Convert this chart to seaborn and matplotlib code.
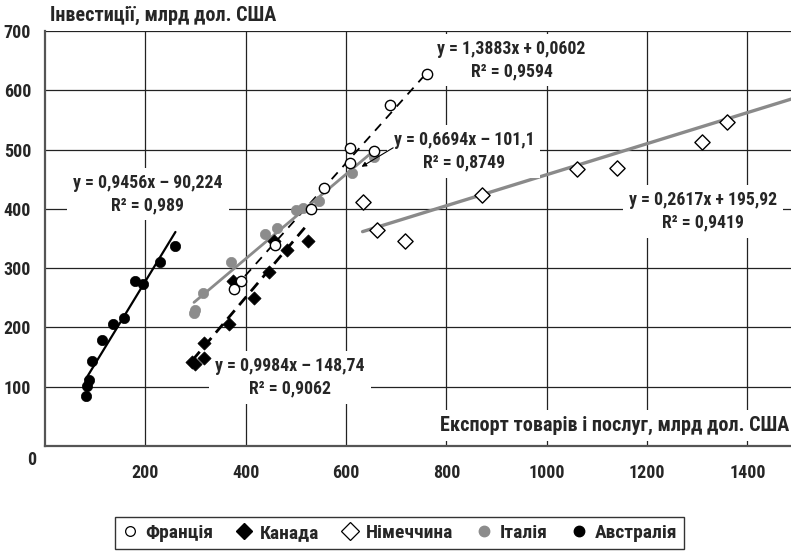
import matplotlib
matplotlib.use("Agg")
import matplotlib.pyplot as plt
from matplotlib import font_manager
from matplotlib.lines import Line2D
import matplotlib.transforms as mtransforms
import numpy as np
import seaborn as sns

# ---------------- data ----------------
australia_x = [81, 84, 88, 94, 113, 135, 157, 180, 196, 229, 260]
australia_y = [84, 101, 111, 144, 178, 205, 216, 279, 274, 310, 337]

canada_x = [294, 299, 316, 317, 367, 374, 417, 447, 457, 483, 524]
canada_y = [142, 138, 173, 148, 205, 279, 249, 294, 346, 330, 346]

france_x = [377, 391, 459, 530, 557, 607, 607, 655, 688, 761]
france_y = [265, 278, 339, 399, 436, 478, 503, 498, 576, 628]

italy_x = [297, 299, 314, 370, 439, 462, 501, 515, 546, 612, 656]
italy_y = [225, 229, 258, 310, 358, 367, 398, 402, 414, 460, 488]

germany_x = [633, 661, 717, 871, 1060, 1141, 1310, 1359]
germany_y = [411, 364, 346, 423, 467, 469, 512, 547]

# trend-line coefficients (slope, intercept) as printed on the chart
australia_fit = [1.3883, 0.0602]
france_fit = [0.9456, -90.224]
canada_fit = [0.9984, -148.74]
germany_fit = [0.2617, 195.92]

labels_legend = ["Франція", "Канада", "Німеччина", "Італія", "Австралія"]
x_ticks = [200, 400, 600, 800, 1000, 1200, 1400]
y_ticks = [100, 200, 300, 400, 500, 600, 700]

eq_texts = [
    "y = 0,9456x – 90,224\nR² = 0,989",
    "y = 1,3883x + 0,0602\nR² = 0,9594",
    "y = 0,6694x – 101,1\nR² = 0,8749",
    "y = 0,2617x + 195,92\nR² = 0,9419",
    "y = 0,9984x – 148,74\nR² = 0,9062",
]
eq_pos = [(205, 425), (930, 651), (835, 497), (1312, 396), (488, 116)]

x_title = "Експорт товарів і послуг, млрд дол. США"
y_title = "Інвестиції, млрд дол. США"

# ---------------- style ----------------
sns.set_style("white")
names = {f.name for f in font_manager.fontManager.ttflist}
family = "DejaVu Sans"
stretch = "normal"
for cand in ["Liberation Sans Narrow", "Roboto Condensed", "Open Sans Condensed",
             "DejaVu Sans Condensed"]:
    if cand in names:
        family = cand
        break
else:
    stretch = "condensed"
plt.rcParams["font.family"] = [family, "DejaVu Sans"]
plt.rcParams["font.weight"] = "bold"
plt.rcParams["font.stretch"] = stretch
FS_TICK = 13
FS_EQ = 12.8
FS_TITLE = 14.5
FS_LEG = 14

fig = plt.figure(figsize=(7.91, 5.51), dpi=100)
ax = fig.add_axes([45 / 791, 105 / 551, 1 - 45 / 791, 415 / 551])
XMAX = 1487
ax.set_xlim(0, XMAX)
ax.set_ylim(0, 700)

ax.set_xticks(x_ticks)
ax.set_yticks(y_ticks)
ax.grid(True, color="#222222", lw=0.9)
ax.set_axisbelow(True)
for s in ["top", "right"]:
    ax.spines[s].set_visible(False)
for s in ["left", "bottom"]:
    ax.spines[s].set_color("#555555")
    ax.spines[s].set_linewidth(1.6)
ax.tick_params(axis="both", direction="out", length=5, width=1, color="#333333",
               labelsize=FS_TICK, pad=5)
ax.tick_params(axis="x", pad=8)
for lab in ax.get_xticklabels() + ax.get_yticklabels():
    lab.set_fontweight("bold")

# ---------------- trend lines ----------------
def fit_line(xs, coef, xmax=None):
    lx = np.array([min(xs), max(xs) if xmax is None else xmax], dtype=float)
    return lx, coef[0] * lx + coef[1]

lx, ly = fit_line(australia_x, australia_fit)
sns.lineplot(x=lx, y=ly, ax=ax, color="black", lw=1.6, zorder=3)
lx, ly = fit_line(france_x, france_fit)
sns.lineplot(x=lx, y=ly, ax=ax, color="black", lw=1.3, linestyle=(0, (5, 4)), zorder=3)
lx, ly = fit_line(canada_x, canada_fit)
sns.lineplot(x=lx, y=ly, ax=ax, color="black", lw=2.0, linestyle=(0, (4, 2.5)), zorder=3)
italy_fit = np.polyfit(italy_x, italy_y, 1)
lx, ly = fit_line(italy_x, italy_fit)
sns.lineplot(x=lx, y=ly, ax=ax, color="#8a8a8a", lw=2.0, zorder=3)
lx, ly = fit_line(germany_x, germany_fit, XMAX)
sns.lineplot(x=lx, y=ly, ax=ax, color="#8a8a8a", lw=2.4, zorder=3)

# ---------------- points ----------------
sns.scatterplot(x=italy_x, y=italy_y, ax=ax, marker="o", s=55, color="#8c8c8c",
                edgecolor="#8c8c8c", linewidth=0.5, zorder=7)
sns.scatterplot(x=australia_x, y=australia_y, ax=ax, marker="o", s=55, color="black",
                edgecolor="black", linewidth=0.5, zorder=7)
sns.scatterplot(x=canada_x, y=canada_y, ax=ax, marker="D", s=45, color="black",
                edgecolor="black", linewidth=0.5, zorder=7)
sns.scatterplot(x=france_x, y=france_y, ax=ax, marker="o", s=55, color="white",
                edgecolor="black", linewidth=1.0, zorder=8)
sns.scatterplot(x=germany_x, y=germany_y, ax=ax, marker="D", s=60, color="white",
                edgecolor="black", linewidth=1.0, zorder=8)

# ---------------- equation labels ----------------
for txt, (px, py) in zip(eq_texts, eq_pos):
    ax.text(px, py, txt, ha="center", va="center", fontsize=FS_EQ, fontweight="bold",
            linespacing=1.3, zorder=6,
            bbox=dict(boxstyle="square,pad=0.35", fc="white", ec="none"))

ax.annotate("", xy=(631, 471), xytext=(694, 503),
            arrowprops=dict(arrowstyle="-|>", color="black", lw=0.8,
                            mutation_scale=7, shrinkA=0, shrinkB=0), zorder=7)

# ---------------- axis titles ----------------
trans = mtransforms.blended_transform_factory(ax.transAxes, ax.transData)
ax.text(0.997, 35, x_title, transform=trans, ha="right", va="center", fontsize=FS_TITLE,
        fontweight="bold", zorder=6,
        bbox=dict(boxstyle="square,pad=0.3", fc="white", ec="none"))
fig.text(50 / 791, 1 - 15 / 551, y_title, ha="left", va="center", fontsize=FS_TITLE,
         fontweight="bold")
fig.text(32 / 791, 1 - 460 / 551, "0", ha="center", va="center", fontsize=FS_TICK,
         fontweight="bold")

# ---------------- legend ----------------
handles = [
    Line2D([], [], ls="none", marker="o", ms=7, mfc="white", mec="black", mew=0.9),
    Line2D([], [], ls="none", marker="D", ms=8, mfc="black", mec="black"),
    Line2D([], [], ls="none", marker="D", ms=9, mfc="white", mec="black", mew=0.9),
    Line2D([], [], ls="none", marker="o", ms=7.5, mfc="#8c8c8c", mec="#8c8c8c"),
    Line2D([], [], ls="none", marker="o", ms=7.5, mfc="black", mec="black"),
]
leg = fig.legend(handles, labels_legend, loc="center", bbox_to_anchor=(0.505, 1 - 533 / 551),
                 ncol=5, frameon=True, fancybox=False, handlelength=0.8,
                 handletextpad=0.4, columnspacing=1.2, borderpad=0.35,
                 prop=dict(size=FS_LEG, weight="bold"))
leg.get_frame().set_edgecolor("black")
leg.get_frame().set_linewidth(1.0)

fig.savefig("out.png", dpi=100)
